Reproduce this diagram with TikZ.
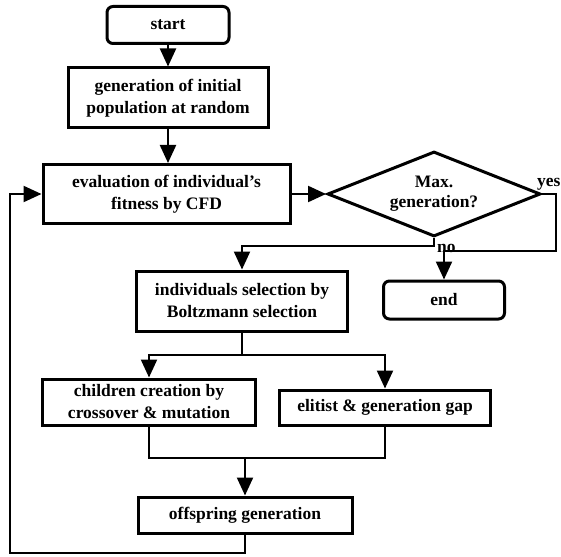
\documentclass[tikz,border=0pt]{standalone}
\usepackage{fontspec}
\setmainfont{Liberation Serif}
\usetikzlibrary{arrows.meta, positioning, shapes.geometric}
\begin{document}
\begin{tikzpicture}[x=1pt, y=-1pt,
  proc/.style={draw, line width=3pt, inner sep=0pt, align=center, font=\bfseries\fontsize{17.5}{22}\selectfont},
  term/.style={proc, rounded corners=6pt, minimum width=122pt, minimum height=37pt},
  decision/.style={draw, diamond, aspect=2.5, line width=3pt, inner sep=0pt, align=center, minimum width=213pt, minimum height=85pt, font=\bfseries\fontsize{17.5}{20}\selectfont},
  lbl/.style={inner sep=0pt, font=\bfseries\fontsize{17.5}{20}\selectfont},
  flow/.style={-{Triangle[length=18pt, width=16pt]}, line width=2.2pt},
  link/.style={line width=2.2pt}
]
  \useasboundingbox (0,0) rectangle (561,556);

  % Main column
  \node[term] (start) at (168,25) {start};
  \node[proc, minimum width=200pt, minimum height=60pt] (init) at (168,98) {generation of initial\\population at random};
  \node[proc, minimum width=247pt, minimum height=59pt] (eval) at (166.5,194) {evaluation of individual's\\fitness by CFD};
  \node[decision] (maxgen) at (434,194) {Max.\\generation?};
  \node[term, minimum width=121pt, minimum height=38pt] (end) at (444,300) {end};

  % Genetic operators
  \node[proc, minimum width=211pt, minimum height=60pt] (select) at (242,301) {individuals selection by\\Boltzmann selection};
  \node[proc, minimum width=213pt, minimum height=46pt] (children) at (149,402) {children creation by\\crossover \& mutation};
  \node[proc, minimum width=211pt, minimum height=35pt] (elite) at (385,407.5) {elitist \& generation gap};
  \node[proc, minimum width=214pt, minimum height=36pt] (offspring) at (245,515) {offspring generation};

  % Branch labels
  \node[lbl, anchor=base west] (yes) at (537,186) {yes};
  \node[lbl, anchor=base west] (no) at (437,252) {no};

  % Turning points
  \coordinate (yesturn) at (556,251);
  \coordinate (split) at (242,355);
  \coordinate (merge) at (245,458);
  \coordinate (loopcorner) at (10,553);

  % Connectors
  \draw[flow] (start) -- (init);
  \draw[flow] (init.south) -- (init.south |- eval.north);
  \draw[flow] (eval.east) -- (maxgen.west);
  \draw[flow] (maxgen.east) -| (yesturn) -- (yesturn -| end.north) -- (end.north);
  \draw[flow] (maxgen.south) -- ++(0,8) -| (select.north);
  \draw[link] (select.south) -- (split);
  \draw[flow] (split) -| (children.north);
  \draw[flow] (split) -| (elite.north);
  \draw[link] (children.south) |- (elite.south |- merge) -- (elite.south);
  \draw[flow] (merge) -- (offspring.north);
  \draw[flow] (offspring.south) |- (loopcorner) |- (eval.west);
\end{tikzpicture}
\end{document}
